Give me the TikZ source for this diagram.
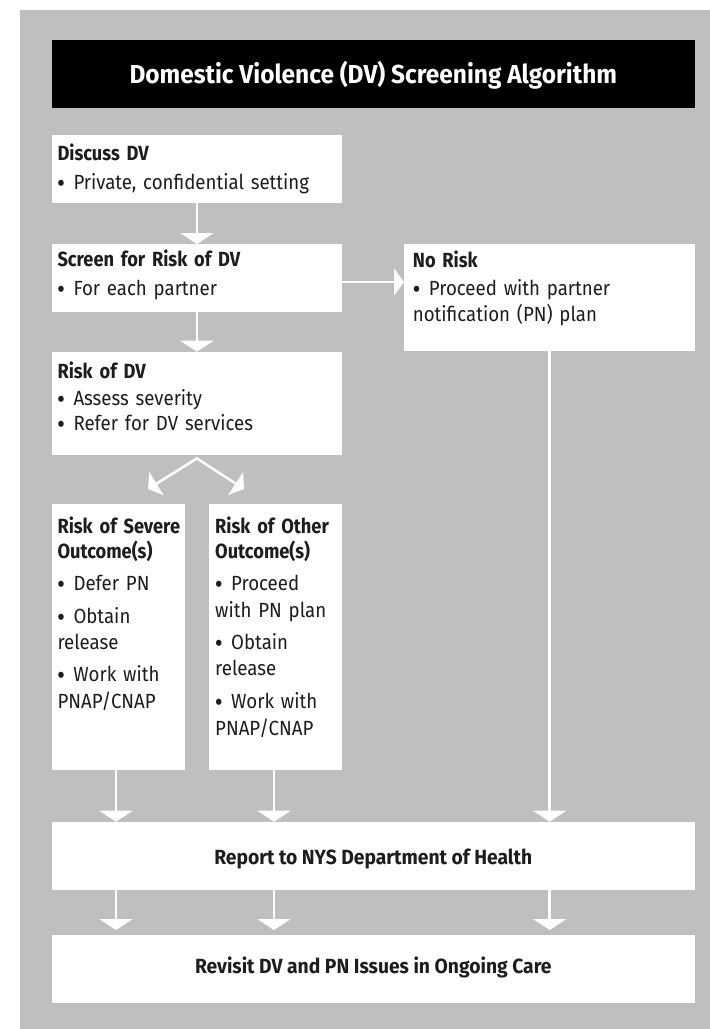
\documentclass[tikz,border=0pt]{standalone}
\usepackage{fontspec}
\setmainfont{Fira Sans}[FakeStretch=0.91, BoldFeatures={FakeStretch=0.89}]
\newfontfamily\widefont{Fira Sans}[FakeStretch=0.94]
\usetikzlibrary{arrows.meta}
\definecolor{bggrey}{RGB}{191,191,191}
\definecolor{ink}{RGB}{30,28,28}
\newcommand{\bul}{\makebox[16pt][l]{\hspace{-0.4pt}\raisebox{-3.2pt}{\fontsize{27}{27}\selectfont •}}}
\begin{document}
\begin{tikzpicture}[x=1pt,y=-1pt,
  box/.style={fill=white, draw=none, inner sep=0pt, anchor=north west},
  txt/.style={anchor=base west, inner sep=0pt, text width=#1, align=left,
    font=\fontsize{20.5}{26.5}\selectfont, text=ink},
  ctxt/.style={anchor=base, inner sep=0pt, font=\widefont\fontsize{20.5}{26.5}\selectfont\bfseries, text=ink},
  flow/.style={draw=white, line width=2.5pt, -{Triangle[width=33pt,length=11pt]}},
  side/.style={draw=white, line width=2.5pt, -{Triangle[width=27pt,length=10pt]}},
  fork/.style={draw=white, line width=2.5pt, {Triangle[width=27pt,length=10pt]}-{Triangle[width=27pt,length=10pt]}}]
% page and background
\fill[white] (0,0) rectangle (710,1029);
\useasboundingbox (0,0) rectangle (710,1029);
\fill[bggrey] (19.5,10) rectangle (710,1029);
% title
\node[box, fill=black, minimum width=643.3pt, minimum height=67.7pt] (title) at (51.7,40) {};
\node[anchor=base, inner sep=0pt, text=white, font=\widefont\fontsize{26}{30}\selectfont\bfseries] (titleT) at (373.3,83.3)
  {Domestic Violence (DV) Screening Algorithm};
% boxes
\node[box, minimum width=290pt, minimum height=67.7pt] (discuss) at (51.7,135) {};
\node[box, minimum width=290pt, minimum height=67.7pt] (screen) at (51.7,244) {};
\node[box, minimum width=291pt, minimum height=106.7pt] (norisk) at (404,244) {};
\node[box, minimum width=290pt, minimum height=103.3pt] (riskdv) at (51.7,351.7) {};
\node[box, minimum width=132.6pt, minimum height=266pt] (severe) at (51.7,503.3) {};
\node[box, minimum width=133.4pt, minimum height=266pt] (other) at (208.3,503.3) {};
\node[box, minimum width=643.3pt, minimum height=68pt] (report) at (51.7,821.7) {};
\node[box, minimum width=643.3pt, minimum height=68pt] (revisit) at (51.7,935) {};
% texts
\node[txt=280pt] (discussT) at (57.3,160) {\textbf{Discuss DV}\\[2.8pt]\bul Private, confidential setting};
\node[txt=280pt] (screenT) at (57.3,266.7) {\textbf{Screen for Risk of DV}\\[1.8pt]\bul For each partner};
\node[txt=280pt] (noriskT) at (412.7,267) {\textbf{No Risk}\\[1.5pt]\bul Proceed with partner\\notification (PN) plan};
\node[txt=280pt] (riskdvT) at (57.3,378) {\textbf{Risk of DV}\\[0.5pt]\bul Assess severity\\[-0.8pt]\bul Refer for DV services};
\node[txt=150pt] (severeT) at (57.3,533) {\textbf{Risk of Severe}\\[-1.5pt]\textbf{Outcome(s)}\\[6.2pt]\bul Defer PN\\[5.8pt]\bul Obtain\\[-0.5pt]release\\[6.2pt]\bul Work with\\[-0.2pt]PNAP/CNAP};
\node[txt=150pt] (otherT) at (215,533) {\textbf{Risk of Other}\\[-1.5pt]\textbf{Outcome(s)}\\[6.2pt]\bul Proceed\\[-0.2pt]with PN plan\\[5.5pt]\bul Obtain\\[0.2pt]release\\[5.8pt]\bul Work with\\[0.5pt]PNAP/CNAP};
\node[ctxt] (reportT) at (373.3,864.3) {Report to NYS Department of Health};
\node[ctxt] (revisitT) at (373.3,973.3) {Revisit DV and PN Issues in Ongoing Care};
% column guides
\coordinate (c1) at (116,0);
\coordinate (c2) at (274,0);
% connectors
\draw[flow] (discuss.south) -- (screen.north);
\draw[flow] (screen.south) -- (riskdv.north);
\draw[side] ([yshift=-4pt]screen.east) -- ([yshift=-4pt]screen.east -| norisk.west);
\coordinate (split) at ([yshift=-3pt]riskdv.south);
\coordinate (tipL) at (148,489);
\coordinate (tipR) at (244,489);
\draw[fork] (tipL) -- (split) -- (tipR);
\draw[flow] (severe.south -| c1) -- (report.north -| c1);
\draw[flow] (other.south -| c2) -- (report.north -| c2);
\draw[flow] (norisk.south) -- (report.north -| norisk.south);
\draw[flow, shorten >=5pt] (report.south -| c1) -- (revisit.north -| c1);
\draw[flow, shorten >=5pt] (report.south -| c2) -- (revisit.north -| c2);
\draw[flow, shorten >=5pt] (report.south -| norisk.south) -- (revisit.north -| norisk.south);
\end{tikzpicture}
\end{document}
